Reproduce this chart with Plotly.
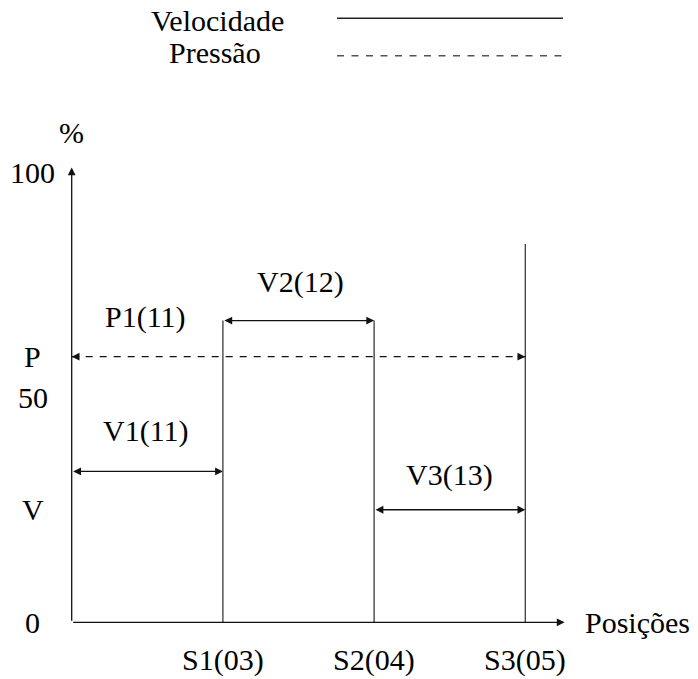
import plotly.graph_objects as go

# ---- data ----
positions = [0, 1, 2, 3]                       # axis origin, S1, S2, S3
position_labels = ["S1(03)", "S2(04)", "S3(05)"]
velocity_levels = [33.5, 67, 25]               # V1, V2, V3 (%)
velocity_labels = ["V1(11)", "V2(12)", "V3(13)"]
pressure_level = 59                            # P (%)
pressure_label = "P1(11)"
s3_line_top = 84
y_tick_values = [100, 59, 50, 25, 0]
y_tick_labels = ["100", "P", "50", "V", "0"]
legend_names = ["Velocidade", "Pressão"]

FONT = "Liberation Serif"
FS = 30

fig = go.Figure()

# vertical velocity-step lines
heights = [max(velocity_levels[0], velocity_levels[1]),
           max(velocity_levels[1], velocity_levels[2]),
           s3_line_top]
for xp, h in zip(positions[1:], heights):
    fig.add_trace(go.Scatter(x=[xp, xp], y=[0, h], mode="lines",
                             line=dict(color="#3a3a3a", width=1.3),
                             showlegend=False, hoverinfo="skip"))

# dashed pressure line
fig.add_trace(go.Scatter(x=[positions[0], positions[-1]],
                         y=[pressure_level, pressure_level], mode="lines",
                         line=dict(color="#111111", width=1.2, dash="7px,7px"),
                         showlegend=False, hoverinfo="skip"))

ann = []
arrow_common = dict(showarrow=True, arrowhead=2, arrowsize=1.2, arrowwidth=1.3,
                    arrowcolor="#111111", axref="x", ayref="y", xref="x", yref="y",
                    text="", standoff=0, startstandoff=0)

# axes with arrows
ann.append(dict(x=0, y=101, ax=0, ay=0, **arrow_common))
ann.append(dict(x=3.26, y=0, ax=0, ay=0, **arrow_common))

# velocity double-headed arrows
for i, v in enumerate(velocity_levels):
    ann.append(dict(x=positions[i + 1], y=v, ax=positions[i], ay=v,
                    arrowside="end+start", startarrowhead=2, startarrowsize=1.2,
                    **arrow_common))

# pressure arrow heads at both ends
ann.append(dict(x=positions[0], y=pressure_level, ax=positions[0] + 0.06,
                ay=pressure_level, **arrow_common))
ann.append(dict(x=positions[-1], y=pressure_level, ax=positions[-1] - 0.06,
                ay=pressure_level, **arrow_common))

txt = dict(showarrow=False, xref="x", yref="y", xanchor="center", yanchor="middle",
           font=dict(family=FONT, size=FS, color="black"))

# segment labels
label_pos = [(0.49, 42.5), (1.51, 75.5), (2.5, 32.8)]
for (lx, ly), lab in zip(label_pos, velocity_labels):
    ann.append(dict(x=lx, y=ly, text=lab, **txt))
ann.append(dict(x=0.49, y=67.8, text=pressure_label, **txt))

# y tick labels
for v, lab in zip(y_tick_values, y_tick_labels):
    ann.append(dict(x=-0.256, y=v, text=lab, **txt))

# x tick labels
for xp, lab in zip(positions[1:], position_labels):
    ann.append(dict(x=xp, y=-8.3, text=lab, **txt))

# axis titles
ann.append(dict(x=0, y=108.7, text="%", **txt))
ann.append({**txt, "x": 3.38, "y": 0, "text": "Posições", "xanchor": "left"})

# legend
ptxt = dict(showarrow=False, xref="paper", yref="paper", xanchor="center", yanchor="middle",
            font=dict(family=FONT, size=FS, color="black"))
ann.append(dict(x=217 / 698, y=1 - 20 / 679, text=legend_names[0], **ptxt))
ann.append(dict(x=215 / 698, y=1 - 53 / 679, text=legend_names[1], **ptxt))

shapes = [
    dict(type="line", xref="paper", yref="paper", x0=337 / 698, x1=563 / 698,
         y0=1 - 18.3 / 679, y1=1 - 18.3 / 679, line=dict(color="#222222", width=1.4)),
    dict(type="line", xref="paper", yref="paper", x0=337 / 698, x1=563 / 698,
         y0=1 - 55.7 / 679, y1=1 - 55.7 / 679,
         line=dict(color="#555555", width=1.4, dash="7px,7.5px")),
]

fig.update_layout(
    width=698, height=679,
    margin=dict(l=0, r=0, t=0, b=0),
    paper_bgcolor="white", plot_bgcolor="white",
    font=dict(family=FONT),
    xaxis=dict(range=[-0.4742, 4.1422], visible=False, fixedrange=True),
    yaxis=dict(range=[-12.59, 138.2], visible=False, fixedrange=True),
    annotations=ann, shapes=shapes, showlegend=False,
)

fig.write_html("out.html", config={"displayModeBar": False},
               post_script="document.body.style.margin='0';document.body.style.overflow='hidden';")
